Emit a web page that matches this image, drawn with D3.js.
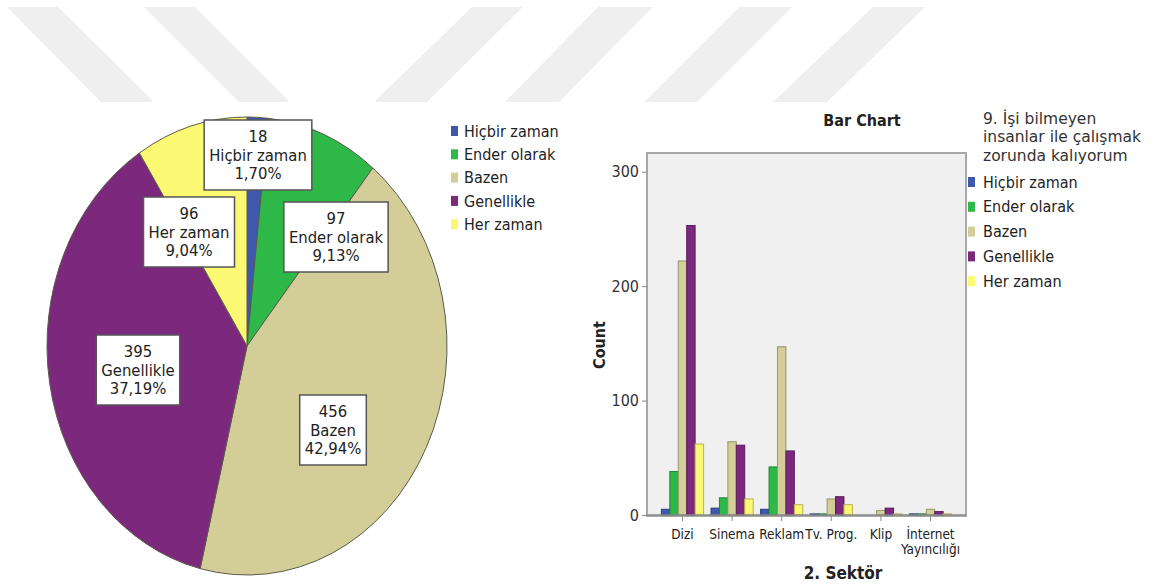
<!DOCTYPE html>
<html>
<head>
<meta charset="utf-8">
<script src="https://cdn.jsdelivr.net/npm/d3@7"></script>
<style>
  body { margin: 0; background: #fff; }
  svg { display: block; }
  .cond { font-family: "Liberation Sans Narrow", "DejaVu Sans Condensed", "Arial Narrow", sans-serif; }
</style>
</head>
<body>
<svg id="chart" width="1154" height="587"></svg>
<script>
var width = 1154;
var height = 587;

// answers (series) and their colours
var answers = ["Hiçbir zaman", "Ender olarak", "Bazen", "Genellikle", "Her zaman"];
var colors = ["#3e58ac", "#2eb848", "#d3ce97", "#7c287d", "#fbf873"];

// pie: counts and percentages
var pieCounts = [18, 97, 456, 395, 96];
var piePercents = ["1,70%", "9,13%", "42,94%", "37,19%", "9,04%"];

// bar chart: sectors and counts per answer
var sectors = ["Dizi", "Sinema", "Reklam", "Tv. Prog.", "Klip", "İnternet Yayıncılığı"];
var hicbir = [5, 6, 5, 1, 0, 1];
var ender = [38, 15, 42, 1, 0, 1];
var bazen = [222, 64, 147, 14, 4, 5];
var genellikle = [253, 61, 56, 16, 6, 3];
var herZaman = [62, 14, 9, 9, 1, 1];
var barSeries = [hicbir, ender, bazen, genellikle, herZaman];
var yTicks = [0, 100, 200, 300];

var svg = d3.select("#chart");

// background watermark stripes
var stripes = [
  [[7, 58], [101, 154]],
  [[144, 195], [239, 290]],
  [[472, 523], [374, 427]],
  [[598, 653], [505, 559]],
  [[739, 792], [644, 697]],
  [[873, 925], [773, 827]]
];
svg.append("g").selectAll("polygon")
  .data(stripes)
  .enter()
  .append("polygon")
  .attr("points", d => [[d[0][0], 7], [d[0][1], 7], [d[1][1], 102], [d[1][0], 102]].join(" "))
  .attr("fill", "#efefef");

// ---------------- PIE ----------------
var cx = 247, cy = 346, rx = 200, ry = 229;

var pie = d3.pie().sort(null).value(d => d);
var arcs = pie(pieCounts);
var arc = d3.arc().innerRadius(0).outerRadius(rx);

var pieGroup = svg.append("g")
  .attr("transform", `translate(${cx}, ${cy}) scale(1, ${ry / rx})`);

pieGroup.selectAll("path")
  .data(arcs)
  .enter()
  .append("path")
  .attr("d", arc)
  .attr("fill", (d, i) => colors[i])
  .attr("stroke", "#5a5a4a")
  .attr("stroke-width", 1)
  .attr("vector-effect", "non-scaling-stroke");

// label boxes (centres)
var labelPos = [[258, 155], [336, 237], [333, 430], [138, 370], [189, 232]];

var labelGroup = svg.append("g").attr("class", "cond");
arcs.forEach(function(d, i) {
  var g = labelGroup.append("g")
    .attr("transform", `translate(${labelPos[i][0]}, ${labelPos[i][1]})`);
  var box = g.append("rect").attr("fill", "#fff").attr("stroke", "#555").attr("stroke-width", 1.5);
  var lines = [String(pieCounts[i]), answers[i], piePercents[i]];
  var maxW = 0;
  lines.forEach(function(t, j) {
    var txt = g.append("text")
      .attr("x", 0)
      .attr("y", (j - 1) * 18.5)
      .attr("dy", "0.35em")
      .attr("text-anchor", "middle")
      .attr("font-size", "16.5px")
      .attr("fill", "#222")
      .text(t);
    maxW = Math.max(maxW, txt.node().getComputedTextLength());
  });
  var bw = maxW + 10, bh = 70;
  box.attr("x", -bw / 2).attr("y", -bh / 2).attr("width", bw).attr("height", bh);
});

// pie legend
var pieLegend = svg.append("g").attr("class", "cond")
  .attr("transform", "translate(451, 131)");
answers.forEach(function(a, i) {
  var row = pieLegend.append("g").attr("transform", `translate(0, ${i * 23.3})`);
  row.append("rect").attr("x", 0).attr("y", -5).attr("width", 7).attr("height", 10).attr("fill", colors[i]);
  row.append("text").attr("x", 13).attr("dy", "0.35em").attr("font-size", "16px").attr("fill", "#222").text(a);
});

// ---------------- BAR CHART ----------------
var frame = { left: 647, right: 966, top: 153, bottom: 516 };

var x0 = d3.scaleBand()
  .domain(sectors)
  .range([frame.left, frame.right])
  .paddingInner(0)
  .paddingOuter(0.215);

var x1 = d3.scaleBand()
  .domain(answers)
  .range([0, x0.bandwidth() * 0.85]);

var y = d3.scaleLinear()
  .domain([0, 300])
  .range([515, 171.7]);

svg.append("rect")
  .attr("x", frame.left)
  .attr("y", frame.top)
  .attr("width", frame.right - frame.left)
  .attr("height", frame.bottom - frame.top)
  .attr("fill", "#f0f0f0")
  .attr("stroke", "#a8a8a8")
  .attr("stroke-width", 2);

var barGroup = svg.append("g");
sectors.forEach(function(s, si) {
  var gx = x0(s) + x0.bandwidth() * 0.075;
  barSeries.forEach(function(series, ai) {
    var v = series[si];
    barGroup.append("rect")
      .attr("x", gx + x1(answers[ai]))
      .attr("y", y(v))
      .attr("width", x1.bandwidth())
      .attr("height", y(0) - y(v))
      .attr("fill", colors[ai])
      .attr("stroke", d3.color(colors[ai]).darker(0.9))
      .attr("stroke-width", 1);
  });
});

// baseline
svg.append("line")
  .attr("x1", frame.left).attr("x2", frame.right)
  .attr("y1", y(0)).attr("y2", y(0))
  .attr("stroke", "#888").attr("stroke-width", 1.5);

// y axis
var yAxis = svg.append("g")
  .attr("class", "cond")
  .attr("transform", `translate(${frame.left}, 0)`)
  .call(d3.axisLeft(y).tickValues(yTicks).tickSize(5).tickPadding(3));
yAxis.select(".domain").remove();
yAxis.selectAll("line").attr("stroke", "#888");
yAxis.selectAll("text").attr("font-size", "16px").attr("fill", "#333").attr("font-family", null);

// x axis
var xAxis = svg.append("g")
  .attr("class", "cond")
  .attr("transform", `translate(0, ${frame.bottom})`)
  .call(d3.axisBottom(x0).tickSize(5).tickPadding(4).tickFormat(""));
xAxis.select(".domain").remove();
xAxis.selectAll("line").attr("stroke", "#888");

var xLabels = svg.append("g").attr("class", "cond");
sectors.forEach(function(s) {
  var parts = s === "İnternet Yayıncılığı" ? ["İnternet", "Yayıncılığı"] : [s];
  parts.forEach(function(p, j) {
    xLabels.append("text")
      .attr("x", x0(s) + x0.bandwidth() / 2)
      .attr("y", 534 + j * 15)
      .attr("dy", "0.35em")
      .attr("text-anchor", "middle")
      .attr("font-size", "13.5px")
      .attr("fill", "#222")
      .text(p);
  });
});

// titles
svg.append("text")
  .attr("class", "cond")
  .attr("x", 862).attr("y", 120)
  .attr("dy", "0.35em")
  .attr("text-anchor", "middle")
  .attr("font-size", "16px")
  .attr("font-weight", "bold")
  .attr("fill", "#222")
  .text("Bar Chart");

svg.append("text")
  .attr("class", "cond")
  .attr("x", 843).attr("y", 573)
  .attr("dy", "0.35em")
  .attr("text-anchor", "middle")
  .attr("font-size", "17px")
  .attr("font-weight", "bold")
  .attr("fill", "#222")
  .text("2. Sektör");

svg.append("text")
  .attr("class", "cond")
  .attr("transform", "translate(599, 345) rotate(-90)")
  .attr("dy", "0.35em")
  .attr("text-anchor", "middle")
  .attr("font-size", "16px")
  .attr("font-weight", "bold")
  .attr("fill", "#222")
  .text("Count");

// bar legend
var legendTitle = ["9. İşi bilmeyen", "insanlar ile çalışmak", "zorunda kalıyorum"];
var barLegend = svg.append("g");
legendTitle.forEach(function(t, i) {
  barLegend.append("text")
    .attr("x", 983).attr("y", 118.5 + i * 18.5)
    .attr("dy", "0.35em")
    .attr("font-family", "DejaVu Sans, sans-serif")
    .attr("font-size", "15.5px")
    .attr("fill", "#333")
    .text(t);
});
answers.forEach(function(a, i) {
  var row = barLegend.append("g").attr("class", "cond")
    .attr("transform", `translate(968, ${182 + i * 24.8})`);
  row.append("rect").attr("x", 0).attr("y", -5).attr("width", 7).attr("height", 10).attr("fill", colors[i]);
  row.append("text").attr("x", 15).attr("dy", "0.35em").attr("font-size", "16px").attr("fill", "#222").text(a);
});
</script>
</body>
</html>
